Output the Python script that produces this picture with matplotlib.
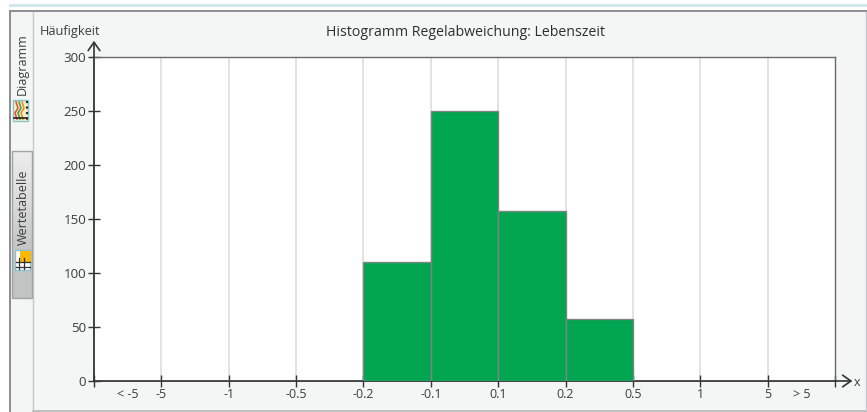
import matplotlib
matplotlib.use('Agg')
import matplotlib.pyplot as plt
from matplotlib.patches import Rectangle
from matplotlib.colors import LinearSegmentedColormap
import numpy as np

plt.rcParams['font.family'] = ['Open Sans', 'DejaVu Sans']

W, H = 867, 412

# histogram classes, the outer two are the open ended ones
bin_labels = ['< -5', '-5 .. -1', '-1 .. -0.5', '-0.5 .. -0.2', '-0.2 .. -0.1', '-0.1 .. 0.1',
              '0.1 .. 0.2', '0.2 .. 0.5', '0.5 .. 1', '1 .. 5', '> 5']
counts = [0, 0, 0, 0, 110, 250, 157, 57, 0, 0, 0]
edge_labels = ['-5', '-1', '-0.5', '-0.2', '-0.1', '0.1', '0.2', '0.5', '1', '5']
y_ticks = [0, 50, 100, 150, 200, 250, 300]

title = 'Histogramm Regelabweichung: Lebenszeit'
text_col = '#3c3c3c'
axis_col = '#333333'

fig = plt.figure(figsize=(W / 100, H / 100), dpi=100, facecolor='white')

# window chrome, drawn in pixel coordinates
bg = fig.add_axes([0, 0, 1, 1], zorder=0)
bg.set_xlim(0, W)
bg.set_ylim(H, 0)
bg.axis('off')
bg.add_patch(Rectangle((9, 4), W - 9, 2.5, fc='#cfe6ea', lw=0))
bg.add_patch(Rectangle((9, 9.5), W - 9, H - 9.5, fc='#f4f6f6', ec='none'))
bg.add_patch(Rectangle((9, 9.5), W - 9, 2.5, fc='#8e9094', lw=0))
bg.add_patch(Rectangle((9, 9.5), 2, H - 9.5, fc='#8e9094', lw=0))
bg.plot([32.5, 32.5], [12, 410], color='#c4c6c8', lw=1)
bg.plot([32.5, W], [410.5, 410.5], color='#b4b6b8', lw=1.2)
bg.plot([865.5, 865.5], [12, 410], color='#c4c6c8', lw=1)

# inactive tab with gradient
grad = np.linspace(0, 1, 64).reshape(-1, 1)
cmap = LinearSegmentedColormap.from_list('tab', ['#ececec', '#dcdcdc', '#c4c5c5', '#c2c3c3'])
bg.imshow(grad, extent=(12, 32, 298, 151), cmap=cmap, aspect='auto', zorder=1)
bg.add_patch(Rectangle((12, 151), 20, 147, fc='none', ec='#a0a2a4', lw=1, zorder=2))
bg.set_xlim(0, W)
bg.set_ylim(H, 0)

# tab icons
bg.add_patch(Rectangle((13, 100), 15, 21, fc='#f8efc8', ec='#86c3cb', lw=1, zorder=2))
for x, c in zip([16, 19, 22], ['#e8503a', '#35a853', '#f08a24']):
    bg.plot([x, x + 2, x - 1, x + 1], [102, 108, 113, 119], color=c, lw=1.2, zorder=3)
bg.plot([26.5, 26.5], [101, 120], color='#222222', lw=1.5, ls=':', zorder=3)
bg.plot([14, 27], [118, 118], color='#222222', lw=1.2, zorder=3)
bg.add_patch(Rectangle((15, 250), 15, 20, fc='white', ec='#86c3cb', lw=1, zorder=2))
bg.add_patch(Rectangle((19.5, 250.5), 11.5, 11, fc='#fbb800', lw=0, zorder=3))
for y in [262, 267]:
    bg.plot([16, 30], [y, y], color='#333333', lw=0.9, zorder=3)
for x in [19, 24]:
    bg.plot([x, x], [258, 269], color='#333333', lw=0.9, zorder=3)

bg.text(22, 64, 'Diagramm', rotation=90, ha='center', va='center', fontsize=9, color=text_col)
bg.text(23, 207, 'Wertetabelle', rotation=90, ha='center', va='center', fontsize=9, color=text_col)

# plot area
left, right, top, bottom = 94, 835, 57, 381
ax = fig.add_axes([left / W, 1 - bottom / H, (right - left) / W, (bottom - top) / H], zorder=2)
ax.set_xlim(0, len(counts))
ax.set_ylim(0, 300)
ax.set_facecolor('white')

ax.bar(np.arange(len(counts)) + 0.5, counts, width=1.0, color='#02a651',
       edgecolor='#7d8583', linewidth=1, zorder=3)

edges = np.arange(1, len(edge_labels) + 1)
ax.vlines(edges, 0, 300, color='#dfdfdf', lw=1.3, zorder=1)

ax.set_xticks(np.arange(len(counts) + 1))
ax.set_xticklabels([''] * (len(counts) + 1))
ax.set_yticks(y_ticks)
ax.tick_params(axis='y', direction='inout', length=8, width=1, color=axis_col,
               labelsize=9.6, labelcolor=text_col, pad=1.5)
ax.tick_params(axis='x', direction='inout', length=8, width=1, color=axis_col)

for pos, lab in zip(edges, edge_labels):
    ax.annotate(lab, (pos, 0), xytext=(0, -14), textcoords='offset pixels', ha='center', va='center',
                fontsize=9, color=text_col)
# open ended classes sit in the middle of their bin
for pos, lab in [(0.5, bin_labels[0]), (10.5, bin_labels[-1])]:
    ax.annotate(lab, (pos, 0), xytext=(0, -14), textcoords='offset pixels', ha='center', va='center',
                fontsize=9, color=text_col)

for s in ['top', 'right']:
    ax.spines[s].set_color('#6a6a6a')
    ax.spines[s].set_linewidth(1)
for s in ['left', 'bottom']:
    ax.spines[s].set_color(axis_col)
    ax.spines[s].set_linewidth(1.3)

# axis arrows
arrow = dict(arrowstyle='->,head_length=0.6,head_width=0.42', color=axis_col, lw=1.2, shrinkA=0, shrinkB=0)
ax.annotate('', xy=(0, 1.05), xytext=(0, 1), xycoords='axes fraction', arrowprops=arrow, annotation_clip=False)
ax.annotate('', xy=(1.0235, 0), xytext=(1, 0), xycoords='axes fraction', arrowprops=arrow, annotation_clip=False)

fig.text(465 / W, 1 - 32 / H, title, ha='center', va='center', fontsize=10.2, color='#2e2e2e')
fig.text(70 / W, 1 - 31 / H, 'Häufigkeit', ha='center', va='center', fontsize=9.2, color=text_col)
fig.text(857 / W, 1 - 382 / H, 'x', ha='center', va='center', fontsize=9, color=text_col)

fig.savefig('out.png', dpi=100)
